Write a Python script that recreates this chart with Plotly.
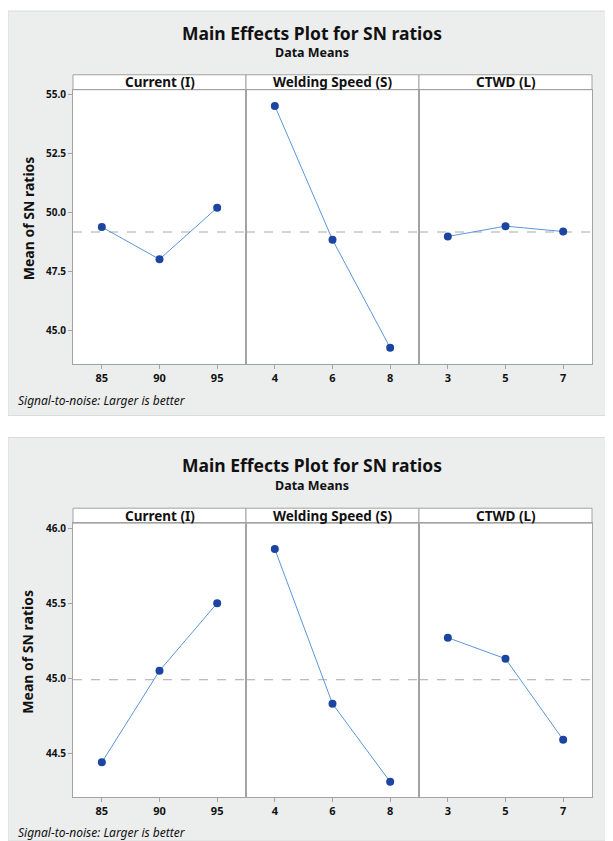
import plotly.graph_objects as go

# page body has an 8px margin, so the figure is offset by 8px
OFF = 8
W, H = 613 - OFF, 841 - OFF

# ---------------- data ----------------
factor_names = ["Current (I)", "Welding Speed (S)", "CTWD (L)"]
levels_current = ["85", "90", "95"]
levels_speed = ["4", "6", "8"]
levels_ctwd = ["3", "5", "7"]

top_current = [49.38, 48.01, 50.20]
top_speed = [54.53, 48.84, 44.25]
top_ctwd = [48.98, 49.42, 49.19]
top_mean = 49.17

bot_current = [44.44, 45.05, 45.50]
bot_speed = [45.86, 44.83, 44.31]
bot_ctwd = [45.27, 45.13, 44.59]
bot_mean = 44.99

top_yticks = [45.0, 47.5, 50.0, 52.5, 55.0]
top_yticktext = ["45.0", "47.5", "50.0", "52.5", "55.0"]
bot_yticks = [44.5, 45.0, 45.5, 46.0]
bot_yticktext = ["44.5", "45.0", "45.5", "46.0"]

title_text = "Main Effects Plot for SN ratios"
subtitle_text = "Data Means"
ytitle_text = "Mean of SN ratios"
foot_text = "Signal-to-noise: Larger is better"

# ---------------- styling ----------------
FONT = "Noto Sans"
BG_GRAY = "#ECEDED"
FRAME = "#A3A3A3"
MARKER = "#1B45A0"
LINE = "#5A96DA"
TXT = "#111111"

def px(x):
    return (x - OFF) / W

def py(y):
    return 1 - (y - OFF) / H

col_px = [(73, 246), (246, 419), (419, 592)]
panels = [
    dict(gray=(5, 414), strip=(72, 87), plot=(87, 362), yr=(43.57, 55.22),
         series=[top_current, top_speed, top_ctwd], mean=top_mean,
         ticks=top_yticks, ticktext=top_yticktext,
         title_y=30, sub_y=50, xlab_y=375, foot_y=399, ytitle_y=216),
    dict(gray=(436, 841), strip=(507, 522), plot=(522, 797), yr=(44.208, 46.033),
         series=[bot_current, bot_speed, bot_ctwd], mean=bot_mean,
         ticks=bot_yticks, ticktext=bot_yticktext,
         title_y=464, sub_y=484, xlab_y=810, foot_y=832, ytitle_y=651),
]
levels = [levels_current, levels_speed, levels_ctwd]

fig = go.Figure()
layout = {}
shapes = []
annotations = []

n = 0
for p in panels:
    g0, g1 = p["gray"]
    shapes.append(dict(type="rect", xref="paper", yref="paper", x0=px(max(5, OFF)), x1=1.0,
                       y0=py(g1), y1=py(max(g0, OFF)), fillcolor=BG_GRAY,
                       line=dict(color="#DADADA", width=1), layer="below"))
    p0, p1 = p["plot"]
    shapes.append(dict(type="rect", xref="paper", yref="paper", x0=px(73), x1=px(592),
                       y0=py(p1), y1=py(p0), fillcolor="white",
                       line=dict(width=0), layer="below"))
    s0, s1 = p["strip"]
    for c, (a, b) in enumerate(col_px):
        shapes.append(dict(type="rect", xref="paper", yref="paper", x0=px(a), x1=px(b),
                           y0=py(s1), y1=py(s0), fillcolor="white",
                           line=dict(color=FRAME, width=1), layer="below"))
        annotations.append(dict(text="<b>%s</b>" % factor_names[c], xref="paper", yref="paper",
                                x=px((a + b) / 2), y=py((s0 + s1) / 2), showarrow=False,
                                xanchor="center", yanchor="middle",
                                font=dict(family=FONT, size=13.5, color=TXT)))
    for c, (a, b) in enumerate(col_px):
        n += 1
        xa = "xaxis" if n == 1 else "xaxis%d" % n
        ya = "yaxis" if n == 1 else "yaxis%d" % n
        xs = "x" if n == 1 else "x%d" % n
        ys = "y" if n == 1 else "y%d" % n
        layout[xa] = dict(domain=[px(a), px(b)], anchor=ys, range=[-0.5, 2.5],
                          tickmode="array", tickvals=[0, 1, 2],
                          ticktext=["<b>%s</b>" % v for v in levels[c]],
                          ticks="outside", ticklen=4, tickcolor=FRAME,
                          showline=True, mirror=True, linecolor=FRAME, linewidth=1,
                          showgrid=False, zeroline=False, fixedrange=True,
                          tickfont=dict(family=FONT, size=11, color=TXT))
        yd = dict(domain=[py(p1), py(p0)], anchor=xs, range=list(p["yr"]),
                  showline=True, mirror=True, linecolor=FRAME, linewidth=1,
                  showgrid=False, zeroline=False, fixedrange=True)
        if c == 0:
            yd.update(tickmode="array", tickvals=p["ticks"],
                      ticktext=["<b>%s</b>" % t for t in p["ticktext"]],
                      ticks="outside", ticklen=4, tickcolor=FRAME,
                      tickfont=dict(family=FONT, size=10, color=TXT))
        else:
            yd.update(showticklabels=False, ticks="")
        layout[ya] = yd
        fig.add_trace(go.Scatter(x=[0, 1, 2], y=p["series"][c], xaxis=xs, yaxis=ys,
                                 mode="lines+markers",
                                 line=dict(color=LINE, width=1),
                                 marker=dict(color=MARKER, size=8),
                                 showlegend=False, hoverinfo="x+y"))
        shapes.append(dict(type="line", xref="%s domain" % xs, yref=ys, x0=0, x1=1,
                           y0=p["mean"], y1=p["mean"],
                           line=dict(color="#A8A8A8", width=1, dash="dash"), layer="below"))
    annotations.append(dict(text="<b>%s</b>" % title_text, xref="paper", yref="paper",
                            x=px(312), y=py(p["title_y"]), showarrow=False,
                            xanchor="center", yanchor="middle",
                            font=dict(family=FONT, size=17.5, color=TXT)))
    annotations.append(dict(text="<b>%s</b>" % subtitle_text, xref="paper", yref="paper",
                            x=px(312), y=py(p["sub_y"]), showarrow=False,
                            xanchor="center", yanchor="middle",
                            font=dict(family=FONT, size=12.5, color=TXT)))
    annotations.append(dict(text="<b>%s</b>" % ytitle_text, xref="paper", yref="paper",
                            x=px(28), y=py(p["ytitle_y"]), showarrow=False, textangle=-90,
                            xanchor="center", yanchor="middle",
                            font=dict(family=FONT, size=14, color=TXT)))
    annotations.append(dict(text="<i>%s</i>" % foot_text, xref="paper", yref="paper",
                            x=px(16), y=py(p["foot_y"]), showarrow=False,
                            xanchor="left", yanchor="middle",
                            font=dict(family=FONT, size=12, color=TXT)))

fig.update_layout(width=W, height=H, margin=dict(l=0, r=0, t=0, b=0),
                  paper_bgcolor="white", plot_bgcolor="white",
                  shapes=shapes, annotations=annotations, **layout)

fig.write_html("out.html")
